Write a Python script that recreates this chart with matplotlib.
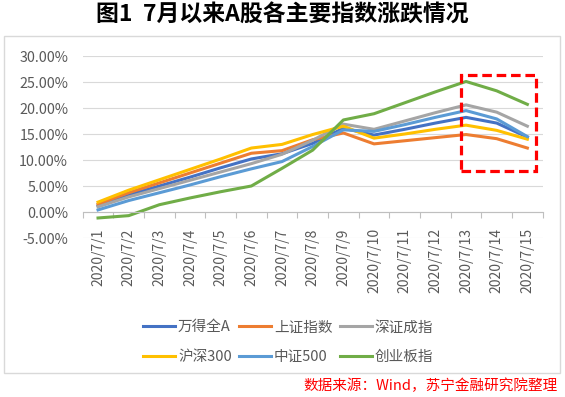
import numpy as np
import matplotlib
matplotlib.use('Agg')
import matplotlib.pyplot as plt
from matplotlib.patches import Rectangle
from matplotlib.ticker import FuncFormatter

plt.rcParams['font.family'] = ['Noto Sans CJK SC', 'DejaVu Sans']

dates = ['2020/7/%d' % d for d in range(1, 16)]
names = ['万得全A', '上证指数', '深证成指', '沪深300', '中证500', '创业板指']
colors = ['#4472C4', '#ED7D31', '#A5A5A5', '#FFC000', '#5B9BD5', '#70AD47']

# 累计涨跌幅 (%)
wind_a = [1.2, 3.3, 5.0, 6.7, 8.5, 10.2, 11.2, 13.2, 16.1, 14.8, 15.9, 17.1, 18.2, 17.1, 14.4]
sh_index = [1.5, 3.7, 5.6, 7.5, 9.4, 11.3, 11.8, 13.9, 15.2, 13.1, 13.7, 14.3, 14.9, 14.1, 12.3]
sz_index = [1.0, 2.9, 4.5, 6.1, 7.7, 9.3, 11.1, 13.8, 16.9, 15.9, 17.5, 19.1, 20.6, 19.2, 16.5]
hs300 = [1.9, 4.2, 6.2, 8.2, 10.2, 12.3, 13.0, 14.9, 16.5, 14.2, 15.0, 15.9, 16.7, 15.7, 14.0]
zz500 = [0.4, 2.2, 3.7, 5.2, 6.8, 8.3, 9.7, 12.6, 15.8, 15.5, 16.8, 18.2, 19.5, 17.9, 14.5]
cyb = [-1.15, -0.7, 1.4, 2.7, 3.9, 5.0, 8.4, 11.9, 17.7, 18.9, 21.0, 23.1, 25.1, 23.3, 20.7]
series = [wind_a, sh_index, sz_index, hs300, zz500, cyb]

fig = plt.figure(figsize=(5.65, 3.97), dpi=100)
fig.patch.set_facecolor('white')

# 外框
fig.patches.append(Rectangle((4 / 565, 1 - 373 / 397), 556 / 565, 337 / 397,
                             transform=fig.transFigure, fill=False,
                             edgecolor='#D9D9D9', lw=1))

fig.text(0.5, 1 - 15 / 397, '图1  7月以来A股各主要指数涨跌情况', ha='center', va='center',
         fontsize=16.5, fontweight='bold', color='black')

ax = fig.add_axes([82.7 / 565, 1 - 238 / 397, 460 / 565, 182 / 397])
x = np.arange(len(dates))
handles = []
for vals, name, c in zip(series, names, colors):
    h, = ax.plot(x, vals, color=c, lw=2.2, label=name, solid_joinstyle='round')
    handles.append(h)

ax.set_xlim(-0.5, len(dates) - 0.5)
ax.set_ylim(-5, 30)
ax.set_yticks(np.arange(-5, 31, 5))
ax.yaxis.set_major_formatter(FuncFormatter(lambda v, p: '%.2f%%' % v))
ax.grid(axis='y', color='#D9D9D9', lw=0.8)
ax.set_axisbelow(True)
ax.tick_params(axis='y', length=0, pad=10.5, labelsize=10.3, labelcolor='#595959')
for s in ['top', 'right', 'left']:
    ax.spines[s].set_visible(False)
ax.spines['bottom'].set_position(('data', 0))
ax.spines['bottom'].set_color('#BFBFBF')
ax.set_xticks(np.arange(-0.5, len(dates), 1))
ax.tick_params(axis='x', direction='out', length=4, color='#BFBFBF', labelbottom=False)

# 日期标签放在底部
sec = ax.secondary_xaxis('bottom')
sec.set_xticks(x, labels=dates, rotation=90)
sec.tick_params(length=0, pad=-7, labelsize=10, labelcolor='#595959')
sec.spines['bottom'].set_visible(False)
for lbl in sec.get_xticklabels():
    lbl.set_bbox(dict(facecolor='white', edgecolor='none', pad=0.5))

# 红色虚线框
ax.add_patch(Rectangle((11.83, 7.9), 2.45, 18.45, fill=False, edgecolor='#FF0000',
                       lw=2.3, linestyle=(0, (3, 1.5)), clip_on=False, zorder=5))

order = [0, 3, 1, 4, 2, 5]
fig.legend([handles[i] for i in order], [names[i] for i in order], ncol=3,
           loc='center', bbox_to_anchor=(0.51, 1 - 342 / 397), frameon=False,
           fontsize=10.5, handlelength=2.2, handletextpad=0.2, columnspacing=0.5,
           labelspacing=1.05, labelcolor='#595959')

fig.text(558 / 565, 1 - 386 / 397, '数据来源：Wind，苏宁金融研究院整理', ha='right', va='center',
         fontsize=10.5, color='#FF0000', style='italic')

fig.savefig('out.png', dpi=100)
